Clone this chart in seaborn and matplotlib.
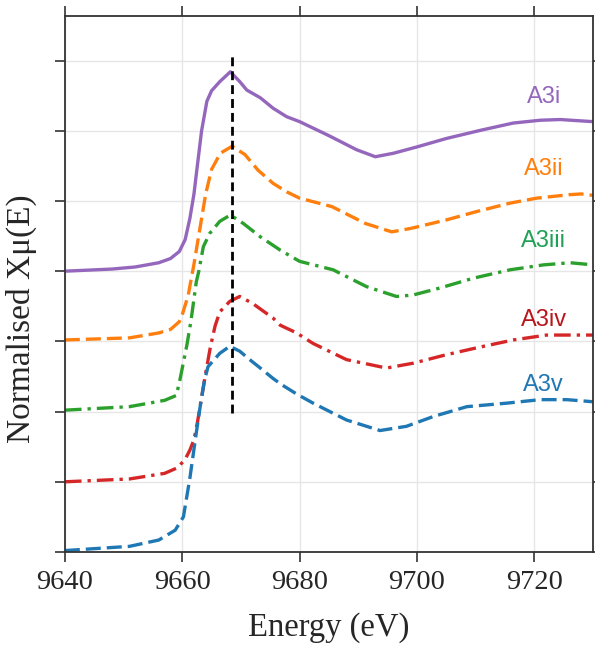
import numpy as np
import pandas as pd
import matplotlib
matplotlib.use("Agg")
import matplotlib.pyplot as plt
import seaborn as sns

# ---- data ----
e_i = [9640, 9648, 9652, 9656, 9658, 9659.5, 9660.5, 9661.3, 9662, 9662.5, 9663.3, 9664.2, 9665,
       9666.4, 9668.2, 9669.8, 9671, 9673.3, 9675.5, 9677.8, 9680, 9685, 9689.7, 9692.9, 9696,
       9700, 9705, 9711, 9716.4, 9721, 9724.4, 9730]
y_i = [4.00, 4.03, 4.06, 4.12, 4.18, 4.28, 4.45, 4.75, 5.10, 5.45, 6.00, 6.42, 6.57,
       6.70, 6.84, 6.70, 6.58, 6.47, 6.32, 6.20, 6.13, 5.93, 5.73, 5.63, 5.68,
       5.77, 5.89, 6.01, 6.11, 6.15, 6.16, 6.13]

e_ii = [9640, 9651, 9656, 9658, 9659.5, 9660, 9661, 9662, 9663, 9664, 9665, 9666.5, 9668.5,
        9670.7, 9672.9, 9675.5, 9677.8, 9680, 9685.5, 9691.2, 9695.7, 9699, 9705, 9710.2,
        9715.9, 9720.4, 9726, 9728, 9730]
y_ii = [3.02, 3.05, 3.12, 3.17, 3.28, 3.38, 3.65, 4.10, 4.60, 5.10, 5.45, 5.68, 5.78,
        5.66, 5.44, 5.25, 5.13, 5.04, 4.92, 4.68, 4.56, 4.61, 4.73, 4.85,
        4.97, 5.04, 5.09, 5.10, 5.08]

e_iii = [9640, 9651, 9657, 9659, 9659.6, 9660.2, 9660.8, 9661.5, 9662.4, 9662.8, 9663.6, 9664.7,
         9666.4, 9668.2, 9670.4, 9673.3, 9676.7, 9680, 9685.7, 9691.4, 9696.5, 9699.3, 9703.9,
         9709.6, 9715.9, 9721.6, 9726.1, 9730]
y_iii = [2.02, 2.07, 2.16, 2.23, 2.45, 2.70, 2.95, 3.30, 3.85, 3.99, 4.35, 4.54,
         4.71, 4.80, 4.68, 4.49, 4.30, 4.14, 4.02, 3.78, 3.64, 3.66, 3.76,
         3.90, 4.02, 4.09, 4.12, 4.09]

e_iv = [9640, 9651, 9657, 9659.2, 9660.5, 9661.3, 9662, 9662.6, 9663.3, 9664, 9664.8, 9665.6,
        9666.4, 9668.1, 9669.8, 9672, 9675.5, 9676.7, 9679.5, 9682.3, 9688, 9694.8, 9699.4,
        9705, 9710.8, 9716.4, 9722.1, 9730]
y_iv = [1.00, 1.04, 1.12, 1.20, 1.32, 1.45, 1.60, 1.85, 2.20, 2.55, 2.92, 3.22,
        3.42, 3.57, 3.64, 3.54, 3.33, 3.23, 3.12, 2.97, 2.74, 2.62, 2.69,
        2.81, 2.92, 3.02, 3.09, 3.09]

e_v = [9640, 9651, 9656, 9658.8, 9660.2, 9661.3, 9662.4, 9663.2, 9663.8, 9664.4, 9666.4, 9668.1,
       9669.8, 9671.5, 9673.3, 9675.5, 9677, 9679.5, 9682.3, 9688, 9693.7, 9698.2, 9702.8,
       9708.5, 9715.3, 9721, 9725.5, 9730]
y_v = [0.02, 0.08, 0.17, 0.31, 0.50, 1.05, 1.70, 2.15, 2.45, 2.64, 2.83, 2.93,
       2.86, 2.74, 2.62, 2.47, 2.38, 2.25, 2.12, 1.88, 1.73, 1.79, 1.93,
       2.07, 2.12, 2.17, 2.17, 2.14]

names = ["A3i", "A3ii", "A3iii", "A3iv", "A3v"]
energies = [e_i, e_ii, e_iii, e_iv, e_v]
values = [y_i, y_ii, y_iii, y_iv, y_v]
label_y = [6.48, 5.45, 4.43, 3.30, 2.38]
label_x = 9721.6
edge_energy = 9668.5
edge_span = [1.98, 7.12]
x_ticks = [9640, 9660, 9680, 9700, 9720]
y_ticks = [0, 1, 2, 3, 4, 5, 6, 7]

colors = ["#9467bd", "#ff7f0e", "#2ca02c", "#d62728", "#1f77b4"]
label_colors = ["#9467bd", "#ff7f0e", "#1fa055", "#b8161c", "#1f77b4"]
styles = ["-", (0, (4.5, 1.8)), (0, (5, 1.8, 1, 1.8)), (0, (5, 1.8, 1, 1.8)), (0, (4.5, 1.8))]

# ---- plot ----
sns.set_style("ticks")
plt.rcParams["font.family"] = ["Liberation Serif", "DejaVu Serif"]

fig = plt.figure(figsize=(5.95, 6.5), dpi=100)
ax = fig.add_axes([0.109, 0.1508, 0.8877, 0.8246])

for n, e, v, c, ls in zip(names, energies, values, colors, styles):
    df = pd.DataFrame({"Energy": e, "mu": v})
    sns.lineplot(data=df, x="Energy", y="mu", color=c, linewidth=2.4,
                 linestyle=ls, ax=ax, estimator=None, sort=False)

ax.plot([edge_energy, edge_energy], edge_span, color="black", linewidth=2.0,
        linestyle=(0, (3.2, 1.8)))

for n, ly, lc in zip(names, label_y, label_colors):
    ax.text(label_x, ly, n, color=lc, fontsize=17, ha="center", va="center",
            family=["Liberation Sans", "DejaVu Sans"])

ax.set_xlim(9640, 9730)
ax.set_ylim(0, 7.635)
ax.set_xticks(x_ticks)
ax.set_yticks(y_ticks)
ax.set_yticklabels([])
ax.grid(True, color="#e6e6e6", linewidth=1.0)
ax.set_axisbelow(True)
ax.tick_params(axis="both", which="both", direction="out", length=7, width=1.2,
               color="#333333", top=True, right=True, labelsize=20.5, pad=6)
for s in ax.spines.values():
    s.set_color("#333333")
    s.set_linewidth(1.3)
ax.set_xlabel("Energy (eV)", fontsize=23.5)
ax.set_ylabel("Normalised Xμ(E)", fontsize=24)
ax.xaxis.set_label_coords(0.5, -0.112)
ax.yaxis.set_label_coords(-0.052, 0.435)

fig.savefig("out.png", dpi=100)
